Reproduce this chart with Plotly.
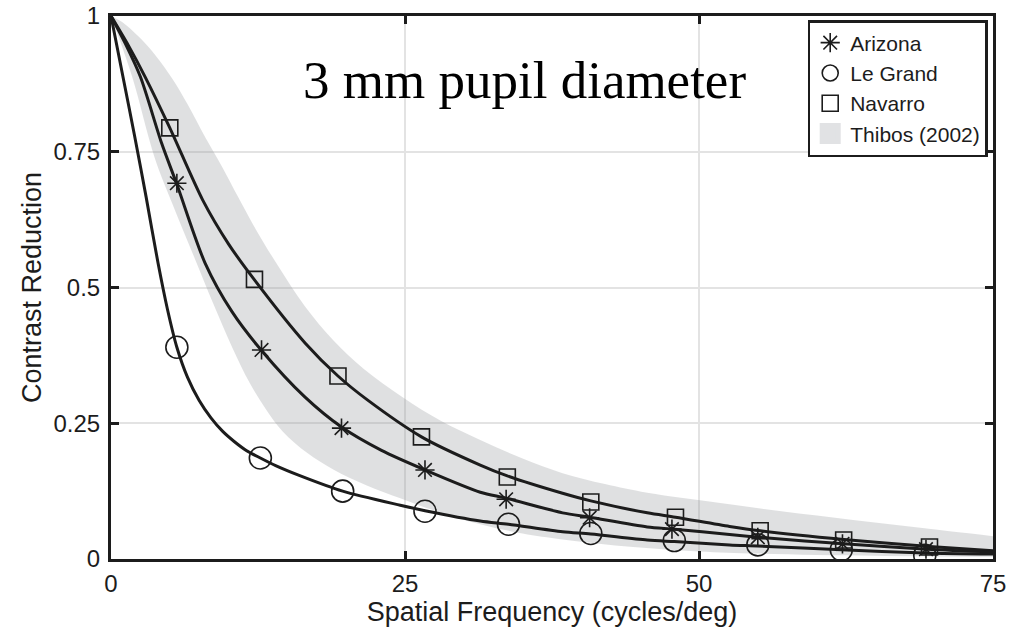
import plotly.graph_objects as go

# ---------------- data ----------------
# Thibos (2002) band: upper and lower edges
thibos_hi_x = [0, 1.0, 2.3, 3.5, 5.2, 6.5, 8.0, 9.5, 10.8, 12.5, 14.2, 16.5, 18.9, 21.5, 24.8, 28, 31.4, 35, 38.4, 42, 45.6, 51.8, 57, 63.1, 69, 75]
thibos_hi_y = [1, 0.988, 0.963, 0.935, 0.885, 0.838, 0.777, 0.72, 0.667, 0.6, 0.54, 0.465, 0.403, 0.35, 0.298, 0.255, 0.219, 0.185, 0.158, 0.138, 0.122, 0.103, 0.088, 0.072, 0.057, 0.042]
thibos_lo_x = [0, 1.8, 3.7, 5.2, 7.0, 8.8, 10.3, 11.8, 13.2, 14.6, 16.7, 18.9, 21.7, 24.6, 27.4, 31.4, 35, 38.4, 44.4, 50, 55, 65, 75]
thibos_lo_y = [1, 0.888, 0.74, 0.655, 0.56, 0.465, 0.39, 0.324, 0.275, 0.235, 0.195, 0.165, 0.136, 0.112, 0.09, 0.064, 0.047, 0.036, 0.022, 0.014, 0.01, 0.006, 0.004]

# model curves
navarro_x = [0, 1.5, 2.9, 5.0, 7.8, 10, 12.2, 16.5, 19.3, 21.8, 26.4, 31.4, 33.7, 38.4, 40.8, 45.6, 48, 52.6, 55.2, 62.3, 69.6, 75]
navarro_y = [1, 0.945, 0.888, 0.794, 0.661, 0.58, 0.514, 0.398, 0.337, 0.293, 0.225, 0.173, 0.153, 0.121, 0.107, 0.085, 0.077, 0.06, 0.052, 0.036, 0.023, 0.015]
arizona_x = [0, 1.2, 2.5, 4.3, 5.6, 8.0, 10.3, 12.8, 16.5, 19.6, 23, 26.7, 31.4, 33.6, 38.4, 40.7, 45.6, 47.9, 52.6, 55.1, 62.3, 69.4, 75]
arizona_y = [1, 0.95, 0.888, 0.766, 0.69, 0.545, 0.455, 0.384, 0.298, 0.243, 0.2, 0.164, 0.123, 0.112, 0.085, 0.077, 0.059, 0.055, 0.045, 0.04, 0.028, 0.018, 0.013]
legrand_x = [0, 1.0, 2.0, 3.0, 4.0, 4.8, 5.6, 6.5, 7.5, 8.5, 9.5, 10.5, 11.5, 12.7, 14, 16, 19.7, 24.6, 26.7, 31.4, 33.8, 38.4, 40.8, 45.6, 47.9, 52.6, 55, 62.1, 69.2, 75]
legrand_y = [1, 0.89, 0.78, 0.665, 0.545, 0.46, 0.39, 0.335, 0.292, 0.26, 0.235, 0.216, 0.2, 0.186, 0.172, 0.154, 0.125, 0.099, 0.089, 0.07, 0.064, 0.05, 0.046, 0.035, 0.032, 0.026, 0.024, 0.017, 0.011, 0.009]

# marker samples
arizona_mx = [5.6, 12.8, 19.6, 26.7, 33.6, 40.7, 47.7, 55.0, 62.2, 69.3]
arizona_my = [0.692, 0.385, 0.241, 0.164, 0.11, 0.076, 0.055, 0.04, 0.028, 0.018]
legrand_mx = [5.6, 12.7, 19.7, 26.7, 33.8, 40.8, 47.9, 55.0, 62.1, 69.2]
legrand_my = [0.39, 0.186, 0.125, 0.088, 0.064, 0.047, 0.034, 0.026, 0.017, 0.007]
navarro_mx = [5.0, 12.2, 19.3, 26.4, 33.7, 40.8, 48.0, 55.2, 62.3, 69.6]
navarro_my = [0.794, 0.515, 0.337, 0.225, 0.151, 0.105, 0.077, 0.052, 0.035, 0.022]

x_ticks = [0, 25, 50, 75]
x_ticktext = ["0", "25", "50", "75"]
y_ticks = [0, 0.25, 0.5, 0.75, 1]
y_ticktext = ["0", "0.25", "0.5", "0.75", "1"]

title_text = "3 mm pupil diameter"
x_title = "Spatial Frequency (cycles/deg)"
y_title = "Contrast Reduction"

# ---------------- figure ----------------
INK = "#1c1c1c"
SANS = "Liberation Sans, Arial, sans-serif"
BAND = "rgba(150,151,154,0.3)"
BAND_SOLID = "#e1e2e4"

fig = go.Figure()

# band (drawn between lower and upper edge)
fig.add_trace(go.Scatter(x=thibos_lo_x, y=thibos_lo_y, mode="lines",
                         line=dict(width=0, shape="spline"), showlegend=False,
                         hoverinfo="skip"))
fig.add_trace(go.Scatter(x=thibos_hi_x, y=thibos_hi_y, mode="lines", showlegend=False,
                         line=dict(width=0, shape="spline"), fill="tonexty",
                         fillcolor=BAND, hoverinfo="skip"))
# legend entry for the band (filled patch)
fig.add_trace(go.Scatter(x=[None], y=[None], mode="markers", name="Thibos (2002)",
                         marker=dict(symbol="square", size=16, color=BAND_SOLID,
                                     line=dict(color=BAND_SOLID, width=5)),
                         legendrank=4))

for cx, cy in [(navarro_x, navarro_y), (arizona_x, arizona_y), (legrand_x, legrand_y)]:
    fig.add_trace(go.Scatter(x=cx, y=cy, mode="lines", showlegend=False,
                             line=dict(color=INK, width=3, shape="spline", smoothing=0.8)))

fig.add_trace(go.Scatter(x=arizona_mx, y=arizona_my, mode="markers", name="Arizona",
                         marker=dict(symbol="asterisk-open", size=16, color=INK,
                                     line=dict(color=INK, width=1.6)), legendrank=1))
fig.add_trace(go.Scatter(x=legrand_mx, y=legrand_my, mode="markers", name="Le Grand",
                         marker=dict(symbol="circle-open", size=22, color=INK,
                                     line=dict(color=INK, width=1.6)), legendrank=2))
fig.add_trace(go.Scatter(x=navarro_mx, y=navarro_my, mode="markers", name="Navarro",
                         marker=dict(symbol="square-open", size=16, color=INK,
                                     line=dict(color=INK, width=1.6)), legendrank=3))

axis_common = dict(
    ticks="inside", ticklen=8, tickwidth=2.5, tickcolor=INK,
    showline=True, mirror="ticks", linecolor=INK, linewidth=3,
    showgrid=True, gridcolor="#e3e3e3", gridwidth=2, zeroline=False,
    tickfont=dict(family=SANS, size=24, color=INK),
    automargin=False,
)

fig.update_xaxes(range=[0, 75], tickvals=x_ticks, ticktext=x_ticktext, ticklabelstandoff=1,
                 title=dict(text=x_title, font=dict(family=SANS, size=27, color=INK), standoff=3),
                 **axis_common)
fig.update_yaxes(range=[0, 1], tickvals=y_ticks, ticktext=y_ticktext, ticklabelstandoff=3,
                 title=dict(text=y_title, font=dict(family=SANS, size=27, color=INK), standoff=5),
                 **axis_common)

fig.add_annotation(x=35.2, y=0.882, xref="x", yref="y", text=title_text, showarrow=False,
                   font=dict(family="Liberation Serif", size=53, color="black"),
                   xanchor="center", yanchor="middle")

fig.update_layout(
    width=1020, height=636,
    margin=dict(l=111, r=27, t=16, b=77, autoexpand=False),
    paper_bgcolor="white", plot_bgcolor="white",
    showlegend=True,
    legend=dict(x=0.994, y=0.9926, xanchor="right", yanchor="top",
                bgcolor="white", bordercolor=INK, borderwidth=2.5,
                font=dict(family=SANS, size=21, color=INK),
                itemwidth=30, tracegroupgap=0, itemsizing="trace",
                traceorder="normal"),
)

fig.write_html("out.html", config={"displayModeBar": False},
               post_script="document.body.style.margin='0px';")
